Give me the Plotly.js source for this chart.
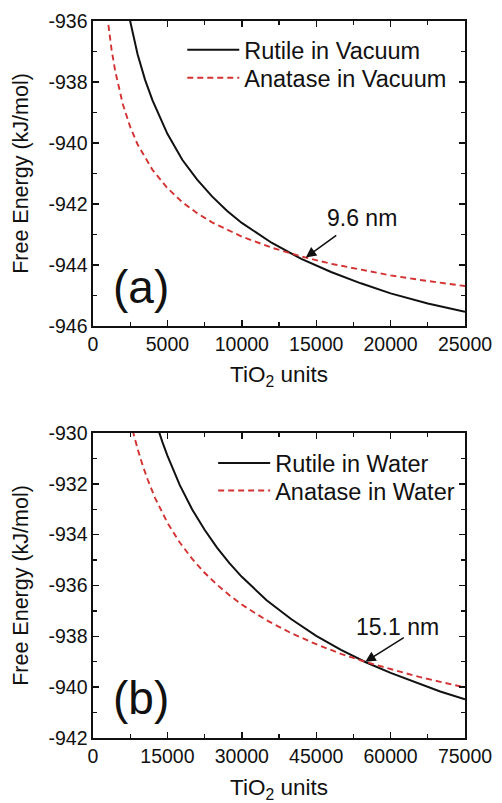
<!DOCTYPE html>
<html>
<head>
<meta charset="utf-8">
<script src="https://cdn.plot.ly/plotly-3.0.1.min.js"></script>
<style>html,body{margin:0;padding:0;background:#fff;}#chart{width:502px;height:803px;}</style>
</head>
<body>
<div id="chart"></div>
<script>
// Panel (a): vacuum
const rutileVacX = [2450, 2500, 3000, 3500, 4000, 5000, 6000, 7000, 8000, 9000, 10000, 12000, 14000, 16000, 18000, 20000, 22500, 25000];
const rutileVacY = [-935.9, -936.0, -937.1, -937.93, -938.6, -939.7, -940.55, -941.2, -941.75, -942.22, -942.62, -943.27, -943.8, -944.23, -944.6, -944.93, -945.26, -945.53];
const anataseVacX = [950, 1000, 1250, 1500, 2000, 2500, 3000, 4000, 5000, 6000, 7000, 8000, 10000, 12000, 14000, 16000, 18000, 20000, 22000, 25000];
const anataseVacY = [-935.8, -936.0, -936.95, -937.66, -938.72, -939.47, -940.05, -940.88, -941.48, -941.94, -942.3, -942.6, -943.07, -943.43, -943.72, -943.96, -944.16, -944.34, -944.49, -944.69];

// Panel (b): water
const rutileWatX = [13300, 13400, 14000, 15000, 17500, 20000, 22500, 25000, 27500, 30000, 35000, 40000, 45000, 50000, 55000, 60000, 65000, 70000, 75000];
const rutileWatY = [-929.95, -930.02, -930.36, -930.89, -932.05, -933.01, -933.81, -934.51, -935.12, -935.66, -936.58, -937.33, -937.98, -938.53, -939.02, -939.44, -939.82, -940.17, -940.48];
const anataseWatX = [8000, 8130, 9000, 10000, 11000, 12500, 15000, 17500, 20000, 22500, 25000, 27500, 30000, 35000, 40000, 45000, 50000, 55000, 60000, 65000, 70000, 75000];
const anataseWatY = [-929.9, -930.0, -930.63, -931.27, -931.82, -932.55, -933.53, -934.31, -934.95, -935.5, -935.97, -936.38, -936.75, -937.37, -937.88, -938.31, -938.69, -939.01, -939.3, -939.56, -939.79, -940.01];

const xTicksA = [0, 5000, 10000, 15000, 20000, 25000];
const xTickTextA = ['0', '5000', '10000', '15000', '20000', '25000'];
const yTicksA = [-946, -944, -942, -940, -938, -936];
const yTickTextA = ['-946', '-944', '-942', '-940', '-938', '-936'];
const xTicksB = [0, 15000, 30000, 45000, 60000, 75000];
const xTickTextB = ['0', '15000', '30000', '45000', '60000', '75000'];
const yTicksB = [-942, -940, -938, -936, -934, -932, -930];
const yTickTextB = ['-942', '-940', '-938', '-936', '-934', '-932', '-930'];

const seriesNames = ['Rutile in Vacuum', 'Anatase in Vacuum', 'Rutile in Water', 'Anatase in Water'];
const crossA = {x: 14300, y: -943.75, label: '9.6 nm'};
const crossB = {x: 54900, y: -939.0, label: '15.1 nm'};

const FONT = '"Liberation Sans", Arial, sans-serif';
const RED = '#d43232';

const traces = [
  {x: rutileVacX, y: rutileVacY, name: seriesNames[0], mode: 'lines', line: {color: '#111', width: 2}, xaxis: 'x', yaxis: 'y', legend: 'legend2'},
  {x: anataseVacX, y: anataseVacY, name: seriesNames[1], mode: 'lines', line: {color: RED, width: 1.9, dash: '6px,4px'}, xaxis: 'x', yaxis: 'y', legend: 'legend3'},
  {x: rutileWatX, y: rutileWatY, name: seriesNames[2], mode: 'lines', line: {color: '#111', width: 2}, xaxis: 'x2', yaxis: 'y2', legend: 'legend4'},
  {x: anataseWatX, y: anataseWatY, name: seriesNames[3], mode: 'lines', line: {color: RED, width: 1.9, dash: '6px,4px'}, xaxis: 'x2', yaxis: 'y2', legend: 'legend5'}
];

function axisBase() {
  return {
    showgrid: false, zeroline: false,
    showline: true, linecolor: '#111', linewidth: 1.6, mirror: 'ticks',
    ticks: 'inside', ticklen: 6, tickwidth: 1.4, tickcolor: '#111',
    tickfont: {family: FONT, size: 19.5, color: '#111'},
    minor: {ticks: 'inside', ticklen: 4, tickwidth: 1.2, tickcolor: '#111'}
  };
}

const xa = Object.assign(axisBase(), {domain: [0, 1], anchor: 'y', range: [0, 25000], tickvals: xTicksA, ticktext: xTickTextA,
  title: {text: 'TiO<sub>2</sub> units', font: {family: FONT, size: 22.5, color: '#111'}, standoff: 12}});
xa.minor.dtick = 2500;
const ya = Object.assign(axisBase(), {domain: [0.5746, 1], anchor: 'x', range: [-946, -936], tickvals: yTicksA, ticktext: yTickTextA,
  title: {text: 'Free Energy (kJ/mol)', font: {family: FONT, size: 21.5, color: '#111'}, standoff: 14}});
ya.minor.dtick = 1;
const xb = Object.assign(axisBase(), {domain: [0, 1], anchor: 'y2', range: [0, 75000], tickvals: xTicksB, ticktext: xTickTextB,
  title: {text: 'TiO<sub>2</sub> units', font: {family: FONT, size: 22.5, color: '#111'}, standoff: 13}});
xb.minor.dtick = 7500;
const yb = Object.assign(axisBase(), {domain: [0, 0.4254], anchor: 'x2', range: [-942, -930], tickvals: yTicksB, ticktext: yTickTextB,
  title: {text: 'Free Energy (kJ/mol)', font: {family: FONT, size: 21.5, color: '#111'}, standoff: 14}});
yb.minor.dtick = 1;

function legendAt(x, y) {
  return {
    x: x, y: y, font: {family: FONT, size: 23.5, color: '#111'}, bgcolor: 'rgba(0,0,0,0)', borderwidth: 0,
    xanchor: 'left', yanchor: 'middle', itemwidth: 52
  };
}

const layout = {
  width: 502, height: 803,
  margin: {l: 93, r: 37, t: 21, b: 65},
  paper_bgcolor: '#fff', plot_bgcolor: '#fff',
  font: {family: FONT, color: '#111'},
  showlegend: true,
  xaxis: xa, yaxis: ya, xaxis2: xb, yaxis2: yb,
  legend2: legendAt(0.24, 0.9596),
  legend3: legendAt(0.24, 0.9205),
  legend4: legendAt(0.323, 0.3831),
  legend5: legendAt(0.323, 0.3449),
  annotations: [
    {xref: 'x', yref: 'y', x: crossA.x, y: crossA.y, text: '', showarrow: true, ax: 32, ay: -23, arrowhead: 2, arrowsize: 1.3, arrowwidth: 1.6, arrowcolor: '#111'},
    {xref: 'x', yref: 'y', x: 18078, y: -942.46, text: crossA.label, showarrow: false, xanchor: 'center', yanchor: 'middle', font: {family: FONT, size: 23, color: '#111'}},
    {xref: 'x2', yref: 'y2', x: crossB.x, y: crossB.y, text: '', showarrow: true, ax: 40, ay: -25, arrowhead: 2, arrowsize: 1.3, arrowwidth: 1.6, arrowcolor: '#111'},
    {xref: 'x2', yref: 'y2', x: 61290, y: -937.63, text: crossB.label, showarrow: false, xanchor: 'center', yanchor: 'middle', font: {family: FONT, size: 23, color: '#111'}},
    {xref: 'x domain', yref: 'y domain', x: 0.128, y: 0.128, text: '(a)', showarrow: false, xanchor: 'center', yanchor: 'middle', font: {family: FONT, size: 46, color: '#111'}},
    {xref: 'x2 domain', yref: 'y2 domain', x: 0.13, y: 0.13, text: '(b)', showarrow: false, xanchor: 'center', yanchor: 'middle', font: {family: FONT, size: 46, color: '#111'}}
  ]
};

Plotly.newPlot('chart', traces, layout, {displayModeBar: false, staticPlot: true});
</script>
</body>
</html>
